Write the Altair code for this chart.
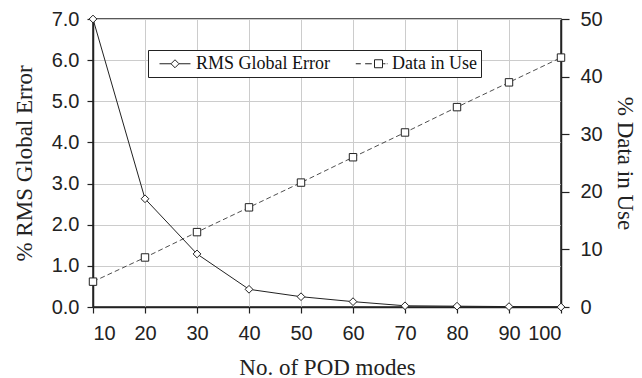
import altair as alt
import pandas as pd

modes = [10, 20, 30, 40, 50, 60, 70, 80, 90, 100]
rms_error = [7.0, 2.63, 1.29, 0.43, 0.25, 0.13, 0.03, 0.02, 0.01, 0.0]
data_in_use = [4.4, 8.6, 13.0, 17.3, 21.6, 26.0, 30.3, 34.7, 39.0, 43.3]
series_names = ["RMS Global Error", "Data in Use"]

df = pd.DataFrame({"n": modes, "rms": rms_error, "data": data_in_use})

SERIF = "Liberation Serif"
SANS = "Liberation Sans"

x_enc = alt.X(
    "n:Q",
    scale=alt.Scale(domain=[10, 100], nice=False, zero=False),
    axis=alt.Axis(values=list(range(10, 101, 10)), title="No. of POD modes", format="d",
                  labelPadding=10, titlePadding=13),
)

y_left = alt.Y(
    "rms:Q",
    scale=alt.Scale(domain=[0, 7], nice=False),
    axis=alt.Axis(values=[0, 1, 2, 3, 4, 5, 6, 7], format=".1f",
                  title="% RMS Global Error", orient="left", grid=True,
                  labelPadding=8, titlePadding=15),
)
y_right = alt.Y(
    "data:Q",
    scale=alt.Scale(domain=[0, 50], nice=False),
    axis=alt.Axis(values=[0, 10, 20, 30, 40, 50], format="d",
                  title="% Data in Use", orient="right", grid=False,
                  tickSize=8, labelPadding=11, titlePadding=10),
)

base = alt.Chart(df)

rms_line = base.mark_line(color="#222", strokeWidth=1).encode(x=x_enc, y=y_left)
rms_pts = base.mark_point(shape="diamond", size=60, filled=True, fill="white",
                          stroke="#222", strokeWidth=1, opacity=1).encode(x=x_enc, y=y_left)

# legend glyphs (line + marker), in symbol units (1 unit = 9 px)
path_rms = ("M-0.222,0H1.056M1.944,0H3.222"
            "M1.5,-0.444L1.944,0L1.5,0.444L1.056,0Z")
path_data = ("M-0.19,0H0.37M0.85,0H1.59"
             "M1.889,-0.444H2.778V0.444H1.889Z"
             "M2.85,0H3.1M3.25,0H3.33")

legend_layer = (
    alt.Chart(pd.DataFrame({"n": modes, "rms": rms_error}))
    .transform_filter("datum.n < 0")
    .transform_calculate(series="'RMS Global Error'")
    .mark_point(filled=False, color="#222", opacity=1, strokeWidth=1)
    .encode(
        x=x_enc,
        y=y_left,
        shape=alt.Shape(
            "series:N",
            title=None,
            scale=alt.Scale(domain=series_names, range=[path_rms, path_data]),
            legend=alt.Legend(
                orient="none", legendX=55, legendY=31, direction="horizontal",
                symbolSize=324, symbolStrokeColor="#222", symbolFillColor="transparent",
                symbolStrokeWidth=1, symbolOpacity=1,
                labelFont=SERIF, labelFontSize=18, labelColor="#111",
                strokeColor="#222", fillColor="white", padding=4,
                columnPadding=18, labelOffset=25, labelLimit=300,
            ),
        ),
    )
)

data_line = base.mark_line(color="#222", strokeWidth=0.8, strokeDash=[5, 3]).encode(x=x_enc, y=y_right)
data_pts = base.mark_point(shape="square", size=55, filled=True, fill="white",
                           stroke="#222", strokeWidth=1, opacity=1).encode(x=x_enc, y=y_right)

left = alt.layer(rms_line, rms_pts, legend_layer)
right = alt.layer(data_line, data_pts)

chart = (
    alt.layer(left, right)
    .resolve_scale(y="independent")
    .properties(
        width=468, height=288,
        autosize=alt.AutoSizeParams(type="none"),
        padding={"left": 93, "top": 19, "right": 81, "bottom": 71},
        background="white",
    )
    .configure_view(stroke="#222", strokeWidth=1.5)
    .configure_axis(
        labelFont=SANS, labelFontSize=20, labelColor="#222",
        titleFont=SERIF, titleFontSize=23, titleFontWeight="normal", titleColor="#222",
        domainColor="#222", domainWidth=1.5, tickColor="#222", tickSize=6, tickWidth=1.2,
        gridColor="#cccccc", gridWidth=1,
    )
)

chart.save("out.html", embed_options={"renderer": "svg", "actions": False})
